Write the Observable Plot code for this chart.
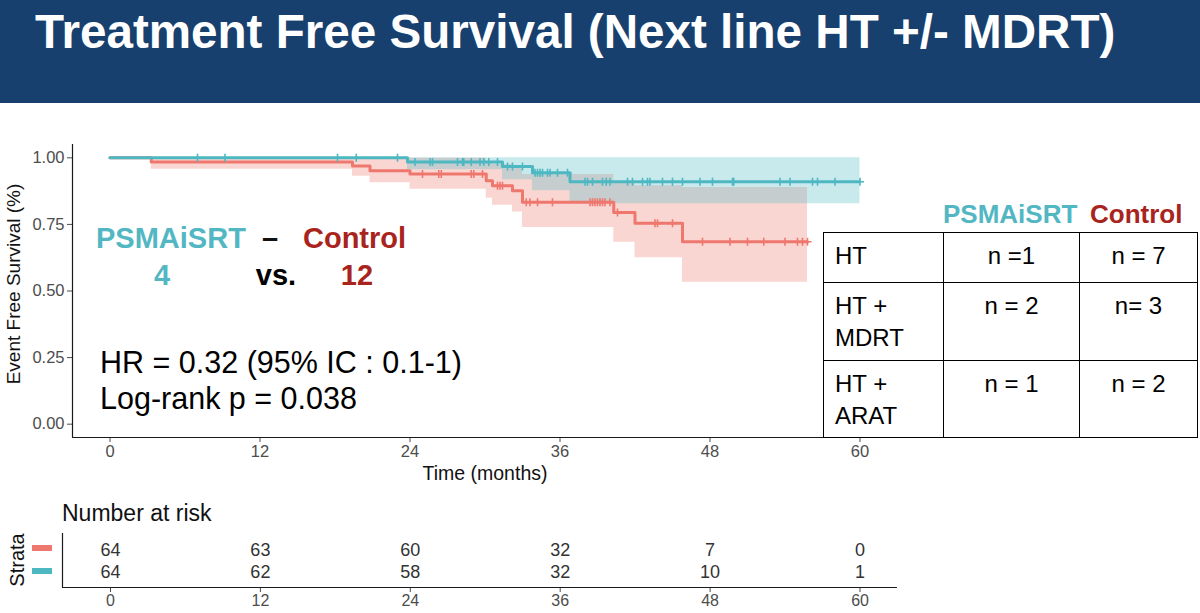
<!DOCTYPE html>
<html><head><meta charset="utf-8">
<script src="https://cdn.jsdelivr.net/npm/d3@7"></script>
<script src="https://cdn.jsdelivr.net/npm/@observablehq/plot@0.6"></script>
<style>
html,body{margin:0;padding:0;background:#fff;}
#page{position:relative;width:1200px;height:613px;overflow:hidden;font-family:"Liberation Sans",Arial,sans-serif;}
#banner{position:absolute;left:0;top:0;width:1200px;height:103px;background:#18406F;}
#banner h1{margin:0;position:absolute;left:35px;top:8px;font-size:47.6px;line-height:47px;font-weight:bold;color:#fff;white-space:nowrap;}
#km{position:absolute;left:0;top:110px;}
#risk{position:absolute;left:0;top:525px;}
#overlay{position:absolute;left:0;top:0;pointer-events:none;}
.sw{position:absolute;left:32px;width:20px;height:6px;}
#tbl{position:absolute;left:823px;top:232px;border-collapse:collapse;background:#fff;font-size:24px;line-height:32px;color:#000;}
#tbl td{border:1.5px solid #000;vertical-align:top;padding:7px 0 0 0;}
#tbl td.lab{padding-left:11px;text-align:left;}
#tbl td.num{text-align:center;}
</style></head>
<body>
<div id="page">
  <div id="banner"><h1>Treatment Free Survival (Next line HT +/- MDRT)</h1></div>
  <div id="km"></div>
  <div id="risk"></div>
  <div class="sw" id="swC" style="top:545px"></div>
  <div class="sw" id="swP" style="top:568px"></div>
  <table id="tbl"></table>
  <svg id="overlay" width="1200" height="613"></svg>
</div>
<script>
// ---------- data ----------
const groups = ["Control", "PSMAiSRT"];
// Control arm (Kaplan-Meier steps)
const controlTimes = [0, 3.3, 19.4, 20.8, 24.0, 30.1, 30.6, 32.2, 33.0, 40.3, 42.0, 45.8];
const controlSurv  = [1, 0.984, 0.969, 0.951, 0.939, 0.914, 0.895, 0.876, 0.833, 0.795, 0.754, 0.685];
const controlLower = [1, 0.957, 0.931, 0.906, 0.882, 0.848, 0.822, 0.797, 0.738, 0.683, 0.625, 0.533];
const controlUpper = [1, 1, 1, 1, 0.998, 0.985, 0.975, 0.965, 0.937, 0.905, 0.895, 0.889];
const controlEnd = 55.8;
const controlCensor = [25.0, 26.3, 26.5, 28.9, 29.1, 29.8, 31.0, 31.2, 31.4, 33.3, 33.6, 34.2, 35.4,
  38.4, 38.6, 38.8, 39.0, 39.2, 39.4, 39.6, 40.0, 40.6, 43.6, 43.8, 45.0,
  47.4, 49.6, 51.0, 52.3, 54.0, 55.0, 55.4, 55.8];
// PSMAiSRT arm
const psmaTimes = [0, 23.8, 31.4, 33.8, 36.8];
const psmaSurv  = [1, 0.984, 0.967, 0.944, 0.910];
const psmaLower = [1, 0.955, 0.918, 0.876, 0.828];
const psmaUpper = [1, 1, 1, 1, 1];
const psmaEnd = 60;
const psmaCensor = [7.0, 9.2, 18.2, 19.7, 23.0, 24.4, 25.6, 25.8, 27.8, 28.2, 28.3, 28.9, 29.6, 29.9,
  30.3, 31.0, 31.8, 32.2, 33.0, 34.0, 34.2, 34.4, 34.6, 35.0, 35.2, 35.8, 36.6, 38.0, 38.2, 38.6,
  39.4, 39.7, 40.0, 41.4, 41.8, 42.6, 43.0, 43.2, 44.2, 45.0, 45.8, 47.2, 48.2, 49.8, 49.9,
  53.6, 54.4, 56.2, 56.6, 58.0, 60.0];
// Number at risk
const riskTimes   = [0, 12, 24, 36, 48, 60];
const riskControl = [64, 63, 60, 32, 7, 0];
const riskPsma    = [64, 62, 58, 32, 10, 1];
const yTicks = [0, 0.25, 0.5, 0.75, 1];
// Next-line treatment table
const tableRows   = [["HT"], ["HT +", "MDRT"], ["HT +", "ARAT"]];
const tablePsma   = ["n =1", "n = 2", "n = 1"];
const tableControl= ["n = 7", "n= 3", "n = 2"];

// ---------- style ----------
const FONT = '"Liberation Sans", Arial, Helvetica, sans-serif';
const RED = "#EE776E", TEAL = "#4DB8C2";
const TXT_TEAL = "#52B7C3", TXT_RED = "#A9241C";

function stepData(times, surv, lo, hi, end) {
  const rows = times.map((t, i) => ({t, s: surv[i], lo: lo[i], hi: hi[i]}));
  rows.push({...rows[rows.length - 1], t: end});
  return rows;
}
function levelAt(times, surv, t) {
  let s = surv[0];
  for (let i = 0; i < times.length; i++) if (times[i] <= t) s = surv[i];
  return s;
}
const controlData = stepData(controlTimes, controlSurv, controlLower, controlUpper, controlEnd);
const psmaData = stepData(psmaTimes, psmaSurv, psmaLower, psmaUpper, psmaEnd);
const controlCens = controlCensor.map(t => ({t, s: levelAt(controlTimes, controlSurv, t)}));
const psmaCens = psmaCensor.map(t => ({t, s: levelAt(psmaTimes, psmaSurv, t)}));

const km = Plot.plot({
  width: 900, height: 380,
  marginLeft: 72, marginRight: 3, marginTop: 34, marginBottom: 53,
  style: {fontFamily: FONT, fontSize: "16.5px", color: "#4D4D4D", background: "transparent", overflow: "visible"},
  x: {domain: [-3, 63], ticks: riskTimes, tickSize: 5, tickPadding: 3, label: null},
  y: {domain: [-0.05, 1.05], ticks: yTicks, tickFormat: d3.format(".2f"), tickSize: 5, tickPadding: 3, label: null},
  marks: [
    Plot.areaY(controlData, {x: "t", y1: "lo", y2: "hi", curve: "step-after", fill: RED, fillOpacity: 0.3}),
    Plot.areaY(psmaData, {x: "t", y1: "lo", y2: "hi", curve: "step-after", fill: TEAL, fillOpacity: 0.3}),
    Plot.lineY(controlData, {x: "t", y: "s", curve: "step-after", stroke: RED, strokeWidth: 3}),
    Plot.lineY(psmaData, {x: "t", y: "s", curve: "step-after", stroke: TEAL, strokeWidth: 3}),
    Plot.dot(controlCens, {x: "t", y: "s", symbol: "plus", r: 2.7, stroke: RED, strokeWidth: 1.6}),
    Plot.dot(psmaCens, {x: "t", y: "s", symbol: "plus", r: 2.7, stroke: TEAL, strokeWidth: 1.6}),
    Plot.ruleX([-3], {stroke: "#1a1a1a", strokeWidth: 1.2}),
    Plot.ruleY([-0.05], {stroke: "#1a1a1a", strokeWidth: 1.2})
  ]
});
document.getElementById("km").appendChild(km);

const riskRows = [
  ...riskTimes.map((t, i) => ({t, row: 2, n: riskControl[i]})),
  ...riskTimes.map((t, i) => ({t, row: 1, n: riskPsma[i]}))
];
const risk = Plot.plot({
  width: 900, height: 88,
  marginLeft: 62, marginRight: 3, marginTop: 8, marginBottom: 26,
  style: {fontFamily: FONT, fontSize: "16px", color: "#4D4D4D", background: "transparent", overflow: "visible"},
  x: {domain: [-3.84, 63], ticks: riskTimes, tickSize: 5, tickPadding: 2, label: null},
  y: {domain: [0.333, 2.733], axis: null},
  marks: [
    Plot.text(riskRows, {x: "t", y: "row", text: d => String(d.n), fontSize: 18, fill: "#333"}),
    Plot.ruleX([-3.84], {stroke: "#1a1a1a", strokeWidth: 1.2}),
    Plot.ruleY([0.333], {stroke: "#1a1a1a", strokeWidth: 1.2})
  ]
});
document.getElementById("risk").appendChild(risk);
document.getElementById("swC").style.background = RED;
document.getElementById("swP").style.background = TEAL;

// table
const tbl = document.getElementById("tbl");
const rowH = [50, 78, 77];
tableRows.forEach((lab, i) => {
  const tr = document.createElement("tr");
  tr.style.height = rowH[i] + "px";
  const td0 = document.createElement("td"); td0.className = "lab"; td0.style.width = "108px";
  td0.innerHTML = lab.join("<br>");
  const td1 = document.createElement("td"); td1.className = "num"; td1.style.width = "135px"; td1.textContent = tablePsma[i];
  const td2 = document.createElement("td"); td2.className = "num"; td2.style.width = "117px"; td2.textContent = tableControl[i];
  tr.append(td0, td1, td2);
  tbl.appendChild(tr);
});

// annotations (text)
const ov = d3.select("#overlay").style("font-family", FONT);
function txt(x, y, s, o = {}) {
  const t = ov.append("text").attr("x", x).attr("y", y).text(s)
    .attr("font-size", o.size || 16).attr("fill", o.fill || "#000")
    .attr("font-weight", o.weight || "normal").attr("text-anchor", o.anchor || "start");
  if (o.rotate) t.attr("transform", `rotate(-90 ${x} ${y})`);
  return t;
}
txt(20, 284, "Event Free Survival (%)", {size: 19, anchor: "middle", rotate: true, fill: "#111"});
txt(485, 480, "Time (months)", {size: 19.5, anchor: "middle", fill: "#111"});
txt(62, 521, "Number at risk", {size: 23, fill: "#111"});
txt(24, 560, "Strata", {size: 20, anchor: "middle", rotate: true, fill: "#111"});
txt(96, 248, "PSMAiSRT", {size: 29, weight: "bold", fill: TXT_TEAL});
txt(262, 248, "–", {size: 29, weight: "bold", fill: "#111"});
txt(303, 248, "Control", {size: 29, weight: "bold", fill: TXT_RED});
txt(162, 285, "4", {size: 29, weight: "bold", fill: TXT_TEAL, anchor: "middle"});
txt(276, 285, "vs.", {size: 29, weight: "bold", fill: "#000", anchor: "middle"});
txt(357, 285, "12", {size: 29, weight: "bold", fill: TXT_RED, anchor: "middle"});
txt(100, 373, "HR = 0.32 (95% IC : 0.1-1)", {size: 30.5});
txt(100, 409, "Log-rank p = 0.038", {size: 30.5});
txt(943, 223, "PSMAiSRT", {size: 26, weight: "bold", fill: TXT_TEAL});
txt(1090, 223, "Control", {size: 26, weight: "bold", fill: TXT_RED});
</script>
</body></html>
